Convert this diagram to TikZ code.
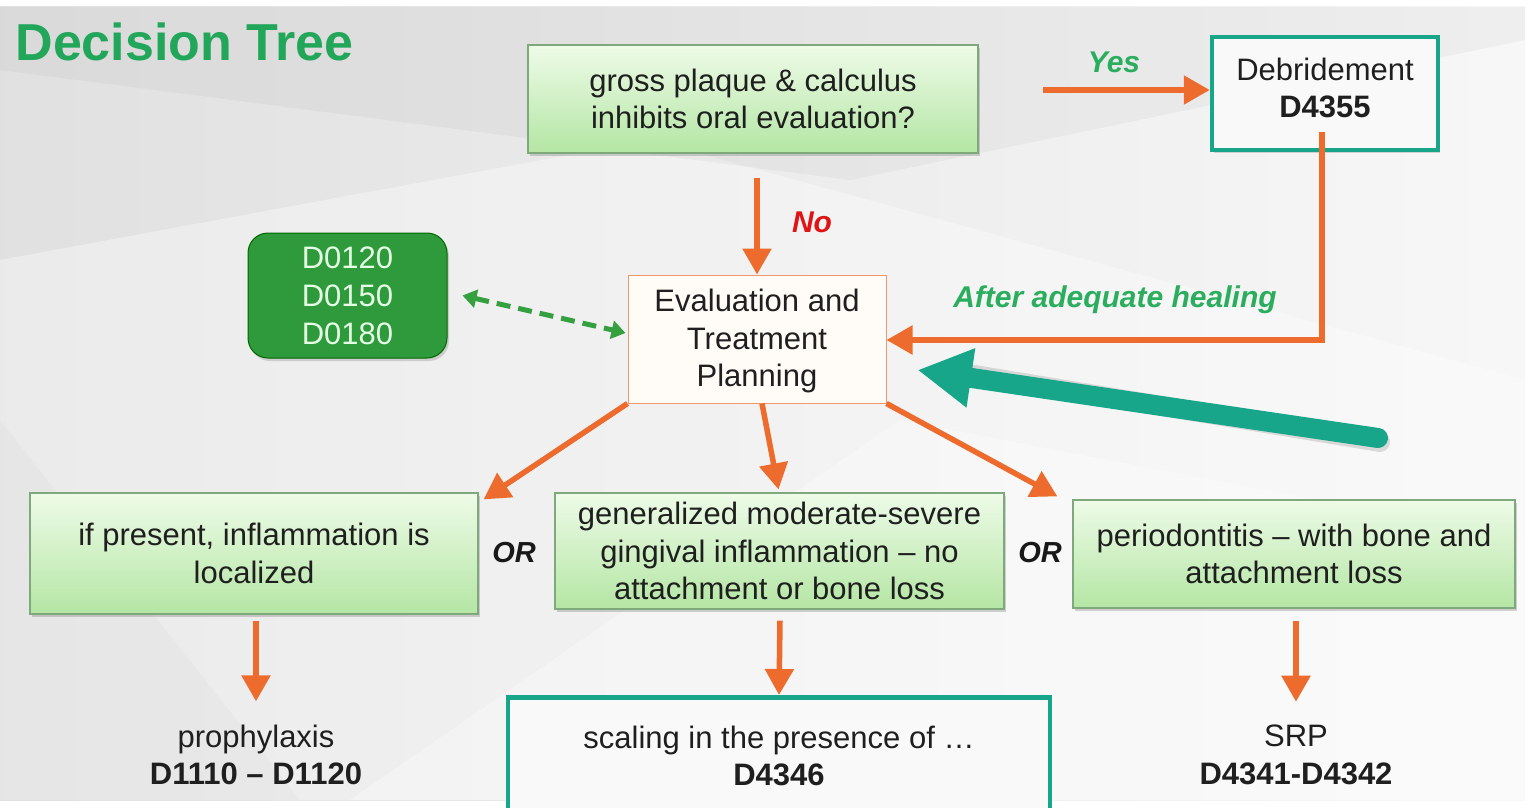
\documentclass[tikz,border=0pt]{standalone}
\usepackage{fontspec}
\setmainfont{Liberation Sans}
\usetikzlibrary{arrows.meta,shadows,calc}
\definecolor{orng}{HTML}{EC6B2D}
\definecolor{teal2}{HTML}{18A68A}
\definecolor{ttlgreen}{HTML}{22A65A}
\definecolor{lblgreen}{HTML}{2AAE5E}
\definecolor{boxtop}{HTML}{EEFBE8}
\definecolor{boxbot}{HTML}{B4E6A4}
\definecolor{boxedge}{HTML}{7FA87C}
\definecolor{darkgreen}{HTML}{2F9A3B}
\definecolor{nored}{HTML}{E01414}
\definecolor{dashgreen}{HTML}{35A040}
\tikzset{
  body/.style={font=\fontsize{31}{37.5}\selectfont, align=center, text=black!88},
  greenbox/.style={body, draw=boxedge, line width=1.2pt, top color=boxtop, bottom color=boxbot,
     drop shadow={shadow xshift=2pt, shadow yshift=-3pt, opacity=0.35}},
  tealbox/.style={draw=teal2, line width=4.5pt, fill=gray!5},
  evalbox/.style={body, draw=orng!70, line width=1pt, fill=orange!3},
  codebox/.style={font=\fontsize{31}{38}\selectfont, align=center, text=white!90!green,
     fill=darkgreen, draw=green!40!black, line width=1pt, rounded corners=20pt,
     drop shadow={shadow xshift=2pt, shadow yshift=-3pt, opacity=0.3}},
  oarrow/.style={draw=orng, line width=5.5pt, -{Triangle[length=26pt,width=28pt]}},
  lbl/.style={font=\fontsize{30}{36}\selectfont\bfseries\itshape},
  orlbl/.style={font=\fontsize{29}{34}\selectfont\bfseries\itshape, text=black!90},
  plain/.style={font=\fontsize{31}{37.5}\selectfont, align=center, text=black!88}
}
\begin{document}
\begin{tikzpicture}[x=1pt,y=-1pt]
\useasboundingbox (0,0) rectangle (1537,808);
\clip (0,0) rectangle (1537,808);
% background
\fill[white] (0,0) rectangle (1537,808);
\shade[left color=gray!24, right color=gray!6] (0,7) rectangle (1525,800);
\fill[white, opacity=0.35] (0,260) -- (650,140) -- (1525,380) -- (1525,800) -- (0,800) -- cycle;
\fill[gray, opacity=0.07] (0,70) -- (850,180) -- (1525,40) -- (1525,7) -- (0,7) -- cycle;
\fill[white, opacity=0.3] (350,800) -- (900,420) -- (1525,540) -- (1525,800) -- cycle;
\fill[gray, opacity=0.04] (0,420) -- (300,800) -- (0,800) -- cycle;

% title
\node[anchor=west, text=ttlgreen, font=\fontsize{52}{60}\selectfont\bfseries] (title) at (12,42) {Decision Tree};

% nodes
\node[greenbox, minimum width=450pt, minimum height=108pt] (q) at (753,99) {gross plaque \& calculus\\inhibits oral evaluation?};
\node[tealbox, minimum width=226pt, minimum height=113pt,
      drop shadow={shadow xshift=2pt, shadow yshift=-3pt, opacity=0.3}] (deb) at (1325,93.5) {};
\node[body] (debtext) at (1325,88) {Debridement\\\textbf{D4355}};
\node[evalbox, minimum width=258pt, minimum height=128pt] (eval) at (757,339) {};
\node[body] (evaltext) at (757,341) {Evaluation and\\Treatment\\Planning};
\node[codebox, minimum width=199pt, minimum height=125pt] (codes) at (347.5,295.5) {D0120\\D0150\\D0180};
\node[greenbox, minimum width=448pt, minimum height=121pt] (left) at (254,553.5) {if present, inflammation is\\localized};
\node[greenbox, minimum width=449pt, minimum height=116pt] (mid) at (779.5,551) {generalized moderate-severe\\gingival inflammation -- no\\attachment or bone loss};
\node[greenbox, minimum width=442pt, minimum height=108pt] (right) at (1294,554) {periodontitis -- with bone and\\attachment loss};
\node[tealbox, minimum width=542pt, minimum height=130pt, anchor=north] (scal) at (779,695) {};
\node[body] (scaltext) at (779,756) {scaling in the presence of \dots\\\textbf{D4346}};
\node[plain] (proph) at (256,755) {prophylaxis\\\textbf{D1110 -- D1120}};
\node[plain] (srp) at (1296,755) {SRP\\\textbf{D4341-D4342}};

% labels
\node[lbl, text=lblgreen] (yes) at (1114,62) {Yes};
\node[lbl, text=nored] (no) at (812,222) {No};
\node[lbl, text=lblgreen] (heal) at (1115,300) {After adequate healing};
\node[orlbl] (or1) at (514,553) {OR};
\node[orlbl] (or2) at (1040,553) {OR};

% connectors
\draw[oarrow] ([shift={(64,-9)}]q.east) -- ([shift={(0,-3.5)}]deb.west);
\draw[oarrow] ([shift={(4,24)}]q.south) -- (eval.north);
\draw[oarrow] ([shift={(-3,-20)}]deb.south) |- ([shift={(0,1)}]eval.east);
\draw[draw=dashgreen, line width=5pt, dash pattern=on 14pt off 8pt,
      {Triangle[length=14pt,width=18pt]}-{Triangle[length=14pt,width=18pt]}]
  ([shift={(15,0)}]codes.east) -- ([shift={(-2,-6)}]eval.west);
\coordinate (tealtail) at (1378,438);
\draw[draw=black, opacity=0.12, line width=20pt, line cap=round]
  ([shift={(2,4)}]tealtail) -- ([shift={(88,36)}]eval.east);
\draw[draw=teal2, line width=20pt, line cap=round,
      -{Triangle[length=54pt,width=56pt]}]
  (tealtail) -- ([shift={(31,31)}]eval.east);
\draw[oarrow] (eval.south west) -- ([shift={(5,7)}]left.north east);
\draw[oarrow] ([shift={(5,0)}]eval.south) -- ([shift={(-1,-3)}]mid.north);
\draw[oarrow] (eval.south east) -- ([shift={(-15,-3)}]right.north west);
\draw[oarrow] ([shift={(2,6)}]left.south) -- ([shift={(0,-20)}]proph.north);
\draw[oarrow] ([shift={(0.5,11)}]mid.south) -- (scal.north);
\draw[oarrow] ([shift={(2,12)}]right.south) -- ([shift={(0,-20)}]srp.north);
\end{tikzpicture}
\end{document}
